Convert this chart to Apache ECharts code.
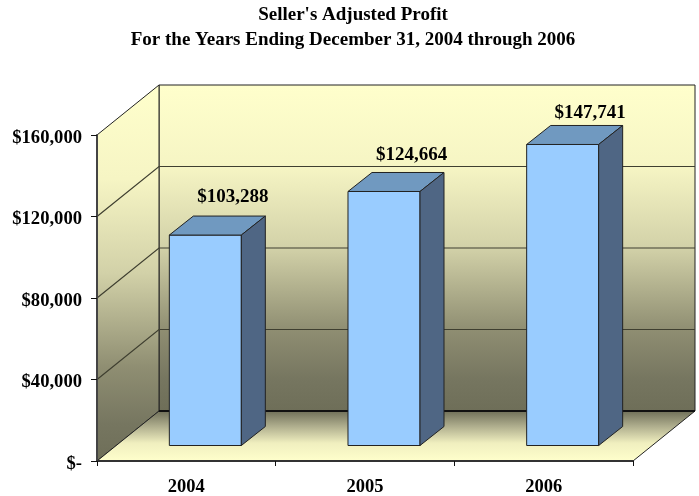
<!DOCTYPE html>
<html>
<head>
<meta charset="utf-8">
<style>
  html, body { margin: 0; padding: 0; background: #fff; }
  #chart { width: 699px; height: 496px; }
</style>
<script src="https://cdn.jsdelivr.net/npm/echarts@6/dist/echarts.min.js"></script>
</head>
<body>
<div id="chart"></div>
<script>
const years = ['2004', '2005', '2006'];
const profits = [103288, 124664, 147741];
const yTicks = [0, 40000, 80000, 120000, 160000];
const labelLift = [38, 36, 31];

const FONT = '"Liberation Serif", "Times New Roman", serif';
const WALL = [62, -50];   // depth of the 3d box
const BAR_DEPTH = [24, -19];
const BAR_INSET = [19, -15.5]; // bars stand this far in from the front edge
const BAR_RATIO = 0.403;

const chart = echarts.init(document.getElementById('chart'));

const wallFill = new echarts.graphic.LinearGradient(0, 0, 0, 1, [
  { offset: 0, color: '#ffffcc' },
  { offset: 0.25, color: '#f6f5c4' },
  { offset: 0.5, color: '#d2d1a8' },
  { offset: 0.75, color: '#8f8e72' },
  { offset: 0.9, color: '#767660' },
  { offset: 1, color: '#6e6e58' }
]);
const floorFill = new echarts.graphic.LinearGradient(0, 0, 0, 1, [
  { offset: 0, color: '#6e6e58' },
  { offset: 0.3, color: '#adac8c' },
  { offset: 0.64, color: '#f0efbf' },
  { offset: 1, color: '#ffffcc' }
]);

function poly(points, fill, stroke, lw) {
  return {
    type: 'polygon',
    shape: { points: points },
    style: { fill: fill, stroke: stroke || '#222', lineWidth: lw === undefined ? 1 : lw }
  };
}

function renderBox(params, api) {
  const c = params.coordSys;
  const x0 = c.x, x1 = c.x + c.width, yTop = c.y, yBot = c.y + c.height;
  const dx = WALL[0], dy = WALL[1];
  const kids = [
    poly([[x0 + dx, yTop + dy], [x1 + dx, yTop + dy], [x1 + dx, yBot + dy], [x0 + dx, yBot + dy]], wallFill, '#222'),
    poly([[x0, yTop], [x0 + dx, yTop + dy], [x0 + dx, yBot + dy], [x0, yBot]], wallFill, '#222'),
    poly([[x0, yBot], [x1, yBot], [x1 + dx, yBot + dy], [x0 + dx, yBot + dy]], floorFill, '#222'),
    {
      type: 'line',
      shape: { x1: x0 + dx, y1: yBot + dy, x2: x1 + dx, y2: yBot + dy },
      style: { stroke: '#111', lineWidth: 2 }
    }
  ];
  yTicks.slice(1, -1).forEach(t => {
    const y = api.coord([0, t])[1];
    kids.push({
      type: 'polyline',
      shape: { points: [[x0, y], [x0 + dx, y + dy], [x1 + dx, y + dy]] },
      style: { fill: null, stroke: '#3f3f30', lineWidth: 1.2 }
    });
  });
  return { type: 'group', children: kids };
}

function renderBar(params, api) {
  const idx = api.value(0);
  const val = api.value(1);
  const base = api.coord([idx, 0]);
  const top = api.coord([idx, val]);
  const w = api.size([1, 0])[0] * BAR_RATIO;
  const l = base[0] - w / 2 + BAR_INSET[0];
  const r = l + w;
  const b = base[1] + BAR_INSET[1];
  const t = top[1] + BAR_INSET[1];
  const dx = BAR_DEPTH[0], dy = BAR_DEPTH[1];
  return {
    type: 'group',
    children: [
      poly([[l, t], [r, t], [r, b], [l, b]], '#99ccff'),
      poly([[l, t], [l + dx, t + dy], [r + dx, t + dy], [r, t]], '#7099c0'),
      poly([[r, t], [r + dx, t + dy], [r + dx, b + dy], [r, b]], '#4f6684'),
      {
        type: 'text',
        style: {
          x: (l + r) / 2 + 27.5,
          y: t - labelLift[idx],
          text: '$' + val.toLocaleString('en-US'),
          fill: '#000',
          font: 'bold 19px ' + FONT,
          align: 'center',
          verticalAlign: 'middle'
        }
      }
    ]
  };
}

chart.setOption({
  animation: false,
  title: {
    text: "Seller's Adjusted Profit\nFor the Years Ending December 31, 2004 through 2006",
    left: 348,
    top: -2,
    textAlign: 'center',
    textStyle: { fontFamily: FONT, fontWeight: 'bold', fontSize: 19, lineHeight: 25, color: '#000' }
  },
  grid: { left: 97, top: 135, width: 536, height: 326, outerBoundsMode: 'none' },
  xAxis: {
    type: 'category',
    data: years,
    z: 5,
    axisLine: { lineStyle: { color: '#333', width: 2 } },
    axisTick: { show: true, length: 5, alignWithLabel: false, lineStyle: { color: '#111' } },
    axisLabel: { margin: 17, color: '#000', fontFamily: FONT, fontWeight: 'bold', fontSize: 18.5 }
  },
  yAxis: {
    type: 'value',
    min: 0,
    max: 160000,
    interval: 40000,
    z: 5,
    splitLine: { show: false },
    axisLine: { show: true, lineStyle: { color: '#444', width: 2 } },
    axisTick: { show: true, length: 6, lineStyle: { color: '#111' } },
    axisLabel: {
      margin: 15,
      formatter: v => '{t|' + (v === 0 ? '$-' : '$' + v.toLocaleString('en-US')) + '}',
      rich: {
        t: { color: '#000', fontFamily: FONT, fontWeight: 'bold', fontSize: 18.6, padding: [6, 0, 0, 0] }
      }
    }
  },
  series: [
    { type: 'custom', z: 1, silent: true, clip: false, data: [[0, 0]], renderItem: renderBox },
    {
      type: 'custom',
      z: 2,
      clip: false,
      encode: { x: 0, y: 1 },
      data: profits.map((p, i) => [i, p]),
      renderItem: renderBar
    }
  ]
});
</script>
</body>
</html>
